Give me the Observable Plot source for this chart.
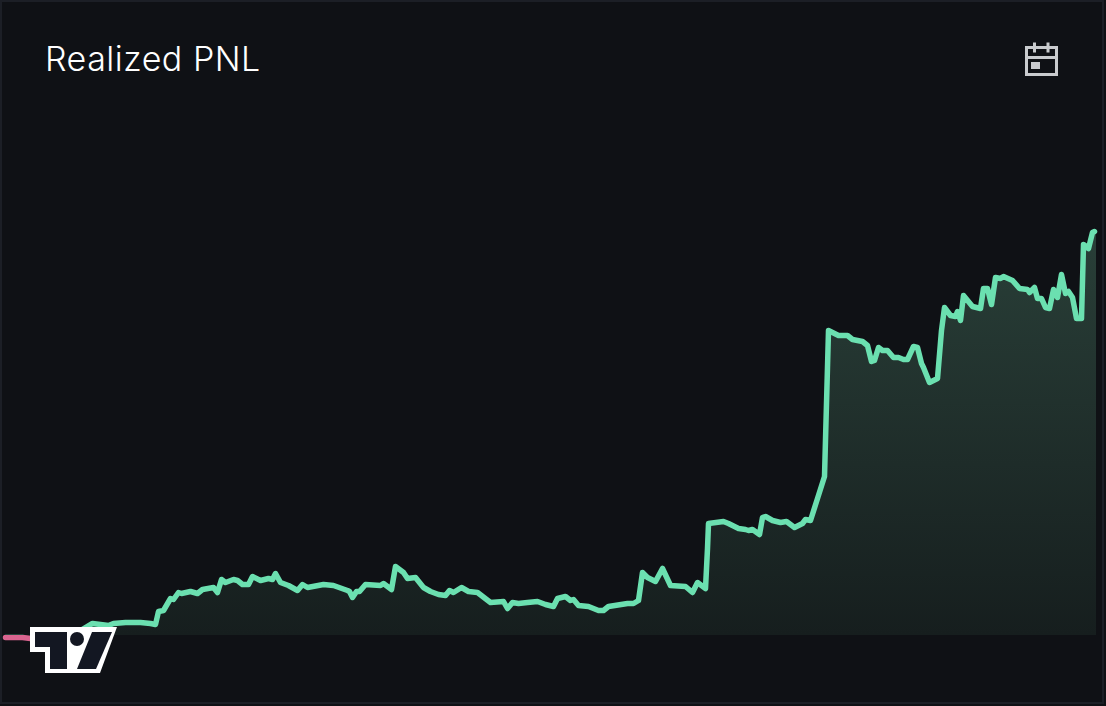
<!DOCTYPE html>
<html>
<head>
<meta charset="utf-8">
<script src="https://cdn.jsdelivr.net/npm/d3@7"></script>
<script src="https://cdn.jsdelivr.net/npm/@observablehq/plot@0.6"></script>
<style>
html,body{margin:0;padding:0;background:#0f1115;}
#card{position:relative;width:1106px;height:706px;overflow:hidden;background:#0f1115;}
#card svg{position:absolute;left:0;top:0;display:block;}
#frame{position:absolute;left:0;top:0;right:2px;bottom:2px;box-sizing:border-box;border:2.5px solid #1c1f26;pointer-events:none;}
#title{position:absolute;left:45px;top:39px;color:#ffffff;font:300 34px/40px Inter,"Noto Sans",sans-serif;letter-spacing:0.5px;white-space:nowrap;}
</style>
</head>
<body>
<div id="card">
<div id="title">Realized PNL</div>
<div id="chart"></div>
<svg id="icons" width="1106" height="706" viewBox="0 0 1106 706" fill="none">
  <g stroke="#c9cbce" stroke-width="3">
    <rect x="1026.5" y="47.5" width="30" height="27"/>
    <path d="M1026 57.5H1057M1034.5 42.500V52.500M1048 42.500V52.500"/>
  </g>
  <rect x="1031" y="62" width="9" height="7" fill="#c9cbce"/>
  <path d="M30 627H117L100 673H45V652H30Z" fill="#fff"/>
  <path d="M35 632H67V669H50V647H35Z" fill="#131722"/>
  <circle cx="77" cy="639" r="7" fill="#131722"/>
  <path d="M92 632H112L96 669H77Z" fill="#131722"/>
</svg>
<div id="frame"></div>
</div>
<script>
const days = [5,15,22,30,40,60,75,85,92,100,108,113,125,140,150,155,158,163,170,173,178,181,190,197,202,213,217,221,225,233,237,242,248,252,260,268,272,275,280,288,297,302,307,323,333,347,349,352,356,359,365,380,383,391,395,403,407,415,423,430,438,445,449,453,461,468,477,490,503,507,512,518,527,537,545,553,557,565,570,573,578,588,598,603,608,627,633,638,642,647,655,662,670,685,692,697,705,707,708,723,728,738,745,748,752,759,762,765,772,780,786,794,802,805,810,817,824,828,838,847,852,862,867,871,874,878,882,887,893,898,903,907,913,917,921,923,929,937,941,944,950,955,957,960,963,972,980,983,987,991,995,1000,1003,1012,1019,1027,1029,1034,1037,1041,1045,1049,1053,1057,1061,1065,1068,1072,1076,1081,1083,1088,1092,1094];
const pnl = [-2,-2,-2,-3,-3,-2,2,8,12,11,10,12,13,13,12,11,24,25,37,36,43,42,44,42,46,48,43,56,53,56,55,51,51,59,55,57,56,62,53,50,45,51,48,51,50,45,44,38,44,44,51,50,52,46,69,63,57,58,48,44,41,40,45,43,48,44,43,33,34,27,33,32,33,34,31,29,37,39,35,36,30,29,25,25,29,32,32,35,63,58,54,67,50,49,43,53,47,87,112,114,112,107,106,105,106,101,118,119,115,113,114,108,112,116,115,137,159,305,300,300,296,294,290,274,275,288,285,285,278,278,276,276,289,288,272,268,253,257,305,328,320,319,324,315,340,329,327,347,347,331,358,357,359,355,347,346,343,348,337,337,328,327,346,338,361,342,344,338,317,317,391,387,403,404];

const rows = days.map((d, i) => ({day: d, value: pnl[i]}));

const defs = () => {
  const ns = "http://www.w3.org/2000/svg";
  const d = document.createElementNS(ns, "defs");
  d.innerHTML = `
    <linearGradient id="areaFill" gradientUnits="userSpaceOnUse" x1="0" y1="231" x2="0" y2="635">
      <stop offset="0" stop-color="#293f38"/>
      <stop offset="1" stop-color="#161e1e"/>
    </linearGradient>
    <linearGradient id="lineStroke" gradientUnits="userSpaceOnUse" x1="0" y1="0" x2="0" y2="706">
      <stop offset="${635/706}" stop-color="#6be0b0"/>
      <stop offset="${635/706}" stop-color="#d9648f"/>
    </linearGradient>`;
  return d;
};

const plot = Plot.plot({
  width: 1106,
  height: 706,
  margin: 0,
  style: {background: "transparent"},
  x: {domain: [0, 1106], range: [0, 1106], axis: null},
  y: {domain: [0, 635], range: [635, 0], axis: null},
  marks: [
    defs,
    Plot.areaY(rows.filter(r => r.value >= 0).concat([{day: 1096, value: 404}]), {x: "day", y1: 0, y2: "value", fill: "url(#areaFill)"}),
    Plot.line(rows, {x: "day", y: "value", stroke: "url(#lineStroke)", strokeWidth: 5.5, strokeLinejoin: "round", strokeLinecap: "round"})
  ]
});
document.getElementById("chart").appendChild(plot);
</script>
</body>
</html>
